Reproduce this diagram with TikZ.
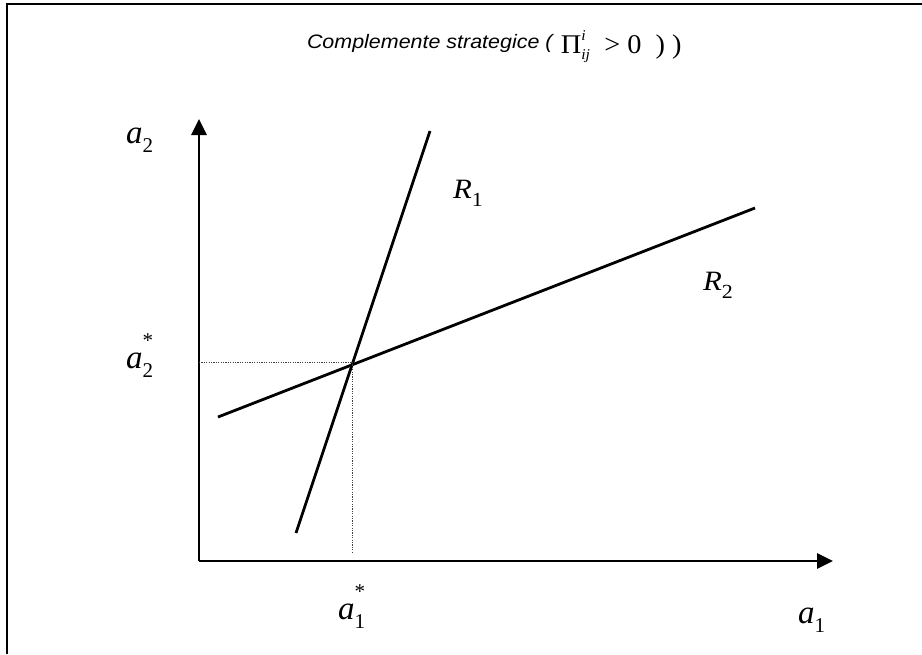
\documentclass[tikz,border=0pt]{standalone}
\usepackage{fontspec}
\setmainfont{Liberation Serif}
\newfontfamily\arialfont{Liberation Sans}
\usetikzlibrary{arrows.meta}
\newcommand\avar[2]{{\fontsize{33}{33}\selectfont\itshape a}\makebox[0pt][l]{\raisebox{21pt}{\fontsize{21}{21}\selectfont #2}}\raisebox{-9pt}{\fontsize{21}{21}\selectfont #1}}
\newcommand\rvar[1]{\scalebox{1.1}[1]{{\fontsize{28}{28}\selectfont\itshape R}\raisebox{-8pt}{\fontsize{20}{20}\selectfont #1}}}
\tikzset{
  lbl/.style={anchor=base west, inner sep=0pt, outer sep=0pt},
  axis/.style={line width=2.8pt, -{Triangle[length=16pt,width=15pt]}},
  resp/.style={line width=2.8pt},
  guide/.style={line width=1pt, black!75, dash pattern=on 1.2pt off 1.2pt},
  frame/.style={line width=2pt}
}
\begin{document}
\begin{tikzpicture}[x=1pt,y=-1pt]
\useasboundingbox (0,0) rectangle (922,654);
% frame (top and left edges)
\coordinate (fbl) at (7,654);
\coordinate (ftl) at (7,4);
\coordinate (ftr) at (922,4);
\draw[frame] (fbl) -- (ftl) -- (ftr);
% axes
\coordinate (O) at (199,561);
\coordinate (ytop) at (199,119);
\coordinate (xend) at (833,561);
\draw[axis] (O) -- (ytop);
\draw[axis] (O) -- (xend);
% response lines
\coordinate (r1a) at (296,533);
\coordinate (r1b) at (430,131);
\coordinate (r2a) at (218,417);
\coordinate (r2b) at (755,208);
\draw[resp] (r1a) -- (r1b);
\draw[resp] (r2a) -- (r2b);
% guides
\coordinate (gy) at (199,362);
\coordinate (gx) at (352.5,362);
\coordinate (gb) at (352.5,553);
\draw[guide] (gy) -- (gx);
\draw[guide] (gx) -- (gb);
% labels
\node[lbl] (la2) at (126,143) {\avar{2}{}};
\node[lbl] (la2s) at (126,368) {\avar{2}{*}};
\node[lbl] (la1s) at (338,619) {\avar{1}{*}};
\node[lbl] (la1) at (798,623) {\avar{1}{}};
\node[lbl] (lr1) at (453,198) {\rvar{1}};
\node[lbl] (lr2) at (703,290) {\rvar{2}};
% title
\node[lbl] (title) at (307,48) {\scalebox{1.1}[1]{\arialfont\itshape\fontsize{19.5}{19.5}\selectfont Complemente strategice (\,}\raisebox{-5pt}{\scalebox{1.05}[1]{\fontsize{27}{27}\selectfont\,Π\makebox[0pt][l]{\raisebox{13pt}{\fontsize{15}{15}\selectfont\itshape i}}\raisebox{-6pt}{\fontsize{15}{15}\selectfont\itshape ij}\ \ >\ 0\ \ ) )}}};
\end{tikzpicture}
\end{document}
